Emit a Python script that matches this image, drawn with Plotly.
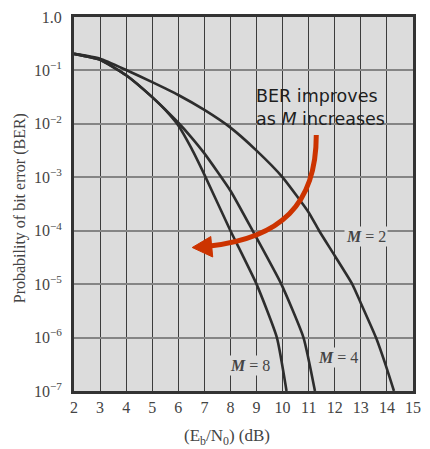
import math
import plotly.graph_objects as go

# ---- data ----
ebn0_m2 = [2, 3, 4, 5, 6, 7, 8, 9, 10, 11, 11.4, 12, 12.67, 13, 13.58, 14, 14.27]
ber_m2 = [0.204, 0.166, 0.102, 0.0603, 0.0347, 0.0182, 8.5e-3, 3.16e-3, 1e-3, 2.2e-4,
          1e-4, 3.4e-5, 1e-5, 4.4e-6, 1e-6, 2.6e-7, 1e-7]

ebn0_m4 = [2, 3, 4, 5, 6, 6.5, 7, 8, 8.85, 9.95, 10.8, 11.24]
ber_m4 = [0.204, 0.158, 0.0813, 0.0316, 0.0105, 5.6e-3, 2.8e-3, 5.6e-4, 1e-4, 1e-5, 1e-6, 1e-7]

ebn0_m8 = [2, 3, 4, 5, 5.5, 6, 6.5, 7, 8, 9, 9.78, 10.15]
ber_m8 = [0.204, 0.158, 0.0813, 0.0316, 0.0182, 9.3e-3, 3.5e-3, 1.12e-3, 1e-4, 1e-5, 1e-6, 1e-7]

x_ticks = list(range(2, 16))
y_tickvals = [1, 1e-1, 1e-2, 1e-3, 1e-4, 1e-5, 1e-6, 1e-7]
y_ticktext = ["1.0", "10<sup>−1</sup>", "10<sup>−2</sup>", "10<sup>−3</sup>",
              "10<sup>−4</sup>", "10<sup>−5</sup>", "10<sup>−6</sup>", "10<sup>−7</sup>"]

series = [("M = 2", ebn0_m2, ber_m2), ("M = 4", ebn0_m4, ber_m4), ("M = 8", ebn0_m8, ber_m8)]
labels = [(13.2, 7.9e-5, "2"), (12.12, 4.2e-7, "4"), (8.75, 2.95e-7, "8")]

SERIF = "Liberation Serif, Times New Roman, serif"
W, H = 430, 449
L, R, T, B = 74, 9, 17, 58
pw, ph = W - L - R, H - T - B

def px(xp, yp):
    return ((xp - L) / pw, (H - B - yp) / ph)

fig = go.Figure()
for name, xs, ys in series:
    fig.add_trace(go.Scatter(x=xs, y=ys, mode="lines", name=name,
                             line=dict(color="#2d2d2d", width=2.6, shape="spline", smoothing=0.5),
                             showlegend=False, hoverinfo="skip"))

annotations = []
for lx, ly, m in labels:
    annotations.append(dict(x=lx, y=math.log10(ly), xref="x", yref="y",
                            text="<b><i>M</i></b> = " + m, showarrow=False,
                            font=dict(family=SERIF, size=16, color="#444"),
                            bgcolor="#dcdcdc", borderpad=1))

ax, ay = px(258, 108)
annotations.append(dict(x=ax, y=ay, xref="paper", yref="paper", xanchor="left", yanchor="middle",
                        text="BER improves<br>as <i>M</i> increases", align="left", showarrow=False,
                        font=dict(family="DejaVu Sans, Verdana, sans-serif", size=17.5, color="#1e1e1e")))
annotations.append(dict(x=px(231, 0)[0], y=px(0, 437)[1], xref="paper", yref="paper",
                        xanchor="center", yanchor="middle",
                        text="(E<sub>b</sub>/N<sub>0</sub>) (dB)", showarrow=False,
                        font=dict(family=SERIF, size=17, color="#444")))
annotations.append(dict(x=px(19, 0)[0], y=px(0, 208)[1], xref="paper", yref="paper",
                        xanchor="center", yanchor="middle",
                        text="Probability of bit error (BER)", textangle=-90, showarrow=False,
                        font=dict(family=SERIF, size=16, color="#444")))

# curved red arrow (paper coords)
p0 = px(322, 135); c1 = px(322, 205); c2 = px(285, 238); p1 = px(213, 246)
body = "M {},{} C {},{} {},{} {},{}".format(*p0, *c1, *c2, *p1)
t0 = px(195, 247.5); t1 = px(214, 236.5); t2 = px(216, 257)
head = "M {},{} L {},{} L {},{} Z".format(*t0, *t1, *t2)
shapes = [
    dict(type="path", path=body, xref="paper", yref="paper", line=dict(color="#cc3300", width=5)),
    dict(type="path", path=head, xref="paper", yref="paper", line=dict(color="#cc3300", width=1),
         fillcolor="#cc3300"),
]

fig.update_layout(
    width=W, height=H, margin=dict(l=L, r=R, t=T, b=B),
    paper_bgcolor="white", plot_bgcolor="#dcdcdc",
    annotations=annotations, shapes=shapes,
    xaxis=dict(range=[2, 15], tickvals=x_ticks, showgrid=True, gridcolor="#3c3c3c", gridwidth=1,
               zeroline=False, showline=True, linecolor="#333", linewidth=3, mirror=True,
               ticks="", tickfont=dict(family=SERIF, size=16, color="#444")),
    yaxis=dict(type="log", range=[-7, 0], tickvals=y_tickvals, ticktext=y_ticktext,
               showgrid=True, gridcolor="#858585", gridwidth=1.5, zeroline=False,
               showline=True, linecolor="#333", linewidth=3, mirror=True, ticks="",
               ticklabelstandoff=6,
               tickfont=dict(family=SERIF, size=16, color="#444")),
)

fig.write_html("out.html", config={"displayModeBar": False},
               post_script="document.body.style.margin='0px';")
